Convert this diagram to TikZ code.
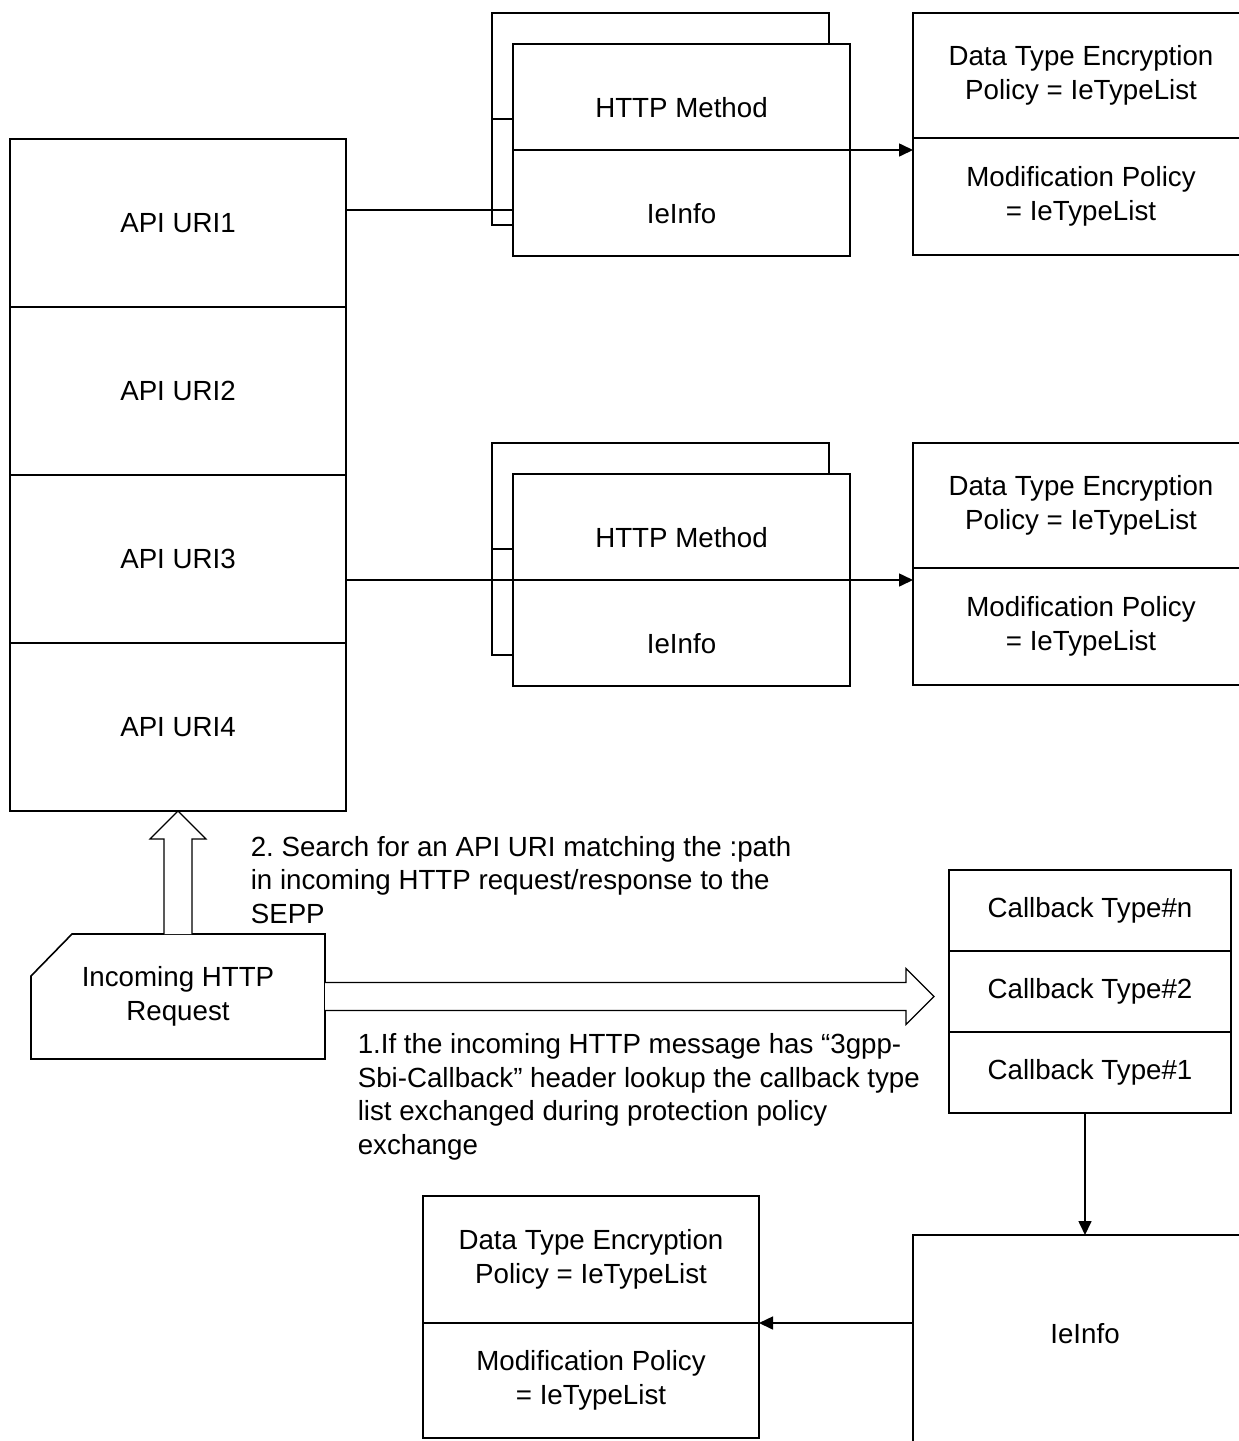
\documentclass[tikz,border=0pt]{standalone}
\usepackage{fontspec}
\setmainfont{Liberation Sans}
\usetikzlibrary{arrows.meta, positioning, calc}
\frenchspacing

\begin{document}
\begin{tikzpicture}[
  x=1pt, y=-1pt, line width=1.6pt, >={Triangle[length=14pt,width=13pt]},
  font=\fontsize{27.7pt}{33.5pt}\selectfont,
  cell/.style={draw, outer sep=0pt, inner sep=0pt, align=center},
  uricell/.style={cell, minimum width=336pt, minimum height=168pt},
  backcell/.style={cell, minimum width=337pt, minimum height=106pt},
  stackcell/.style={cell, fill=white, minimum width=337pt, minimum height=106pt,
    text height=40pt, text depth=0pt},
  policycell/.style={cell, minimum width=336pt},
  cbcell/.style={cell, minimum width=282pt, minimum height=81pt},
  note/.style={align=left, inner sep=0pt, anchor=west},
  fat/.style={line width=1.2pt, fill=white}
]
\useasboundingbox (0,0) rectangle (1239,1441);
\clip (0,0) rectangle (1239,1441);

% --- API URI list ---
\node[uricell] (uri1) at (178,223) {API URI1};
\node[uricell, below=0pt of uri1] (uri2) {API URI2};
\node[uricell, below=0pt of uri2] (uri3) {API URI3};
\node[uricell, below=0pt of uri3] (uri4) {API URI4};

% --- Method stacks and their policies ---
\foreach \k/\yy in {1/0, 2/430} {
  \node[backcell] (backa\k) at (660.5,66+\yy) {};
  \node[backcell, below=0pt of backa\k] (backb\k) {};
  \node[stackcell] (http\k) at (681.5,97+\yy) {HTTP Method};
  \node[stackcell, below=0pt of http\k] (ie\k) {IeInfo};
  \node[policycell, minimum height=125pt] (dte\k) at (1081,75.5+\yy)
    {Data Type Encryption\\Policy = IeTypeList};
  \node[policycell, minimum height=117pt, below=0pt of dte\k] (mod\k)
    {Modification Policy\\= IeTypeList};
}

% --- Incoming request ---
\node[cell, draw=none, minimum width=294pt, minimum height=125pt] (incoming)
  at (178,996.5) {Incoming HTTP\\Request};
\draw ([xshift=41pt]incoming.north west) -- (incoming.north east)
  -- (incoming.south east) -- (incoming.south west)
  -- ([yshift=-42pt]incoming.north west) -- cycle;

% --- Callback types ---
\node[cbcell] (cbn) at (1090,910.5) {Callback Type\#n};
\node[cbcell, below=0pt of cbn] (cb2) {Callback Type\#2};
\node[cbcell, below=0pt of cb2] (cb1) {Callback Type\#1};

\node[cell, minimum width=344pt, minimum height=214pt, text height=20pt,
  text depth=18pt] (ieinfo) at (1085,1342) {IeInfo};
\node[policycell, minimum height=127pt] (dte3) at (591,1259.5)
  {Data Type Encryption\\Policy = IeTypeList};
\node[policycell, minimum height=115pt, below=0pt of dte3] (mod3)
  {Modification Policy\\= IeTypeList};

% --- Connectors ---
\draw ([yshift=13pt]uri1.east) -- ([yshift=13pt]uri1.east -| ie1.west);
\draw[->] (http1.south east) -- (http1.south east -| dte1.west);
\draw[->] (uri3.east |- http2.south) -- (http2.south -| dte2.west);
\draw[->] (cb1.south -| ieinfo.north) -- (ieinfo.north);
\draw[->] (ieinfo.west |- dte3.south) -- (dte3.south east);

% --- Hollow arrows ---
\coordinate (uptip) at (uri4.south);
\coordinate (tip) at (934,996.5);
\draw[fat] ([xshift=-14pt]incoming.north) -- ([xshift=-14pt,yshift=-28pt]uptip)
  -- ([xshift=-28pt,yshift=-28pt]uptip) -- (uptip)
  -- ([xshift=28pt,yshift=-28pt]uptip) -- ([xshift=14pt,yshift=-28pt]uptip)
  -- ([xshift=14pt]incoming.north);
\draw[fat] ([yshift=14pt]incoming.east) -- ([xshift=-28pt,yshift=14pt]tip)
  -- ([xshift=-28pt,yshift=28pt]tip) -- (tip)
  -- ([xshift=-28pt,yshift=-28pt]tip) -- ([xshift=-28pt,yshift=-14pt]tip)
  -- ([yshift=-14pt]incoming.east);

% --- Notes ---
\node[note] (step2) at (250,880)
  {2. Search for an API URI matching the :path\\in incoming HTTP request/response to the\\SEPP};
\node[note] (step1) at (357,1097)
  {1.If the incoming HTTP message has “3gpp-\\Sbi-Callback” header lookup the callback type\\list exchanged during protection policy\\exchange};

\end{tikzpicture}
\end{document}
